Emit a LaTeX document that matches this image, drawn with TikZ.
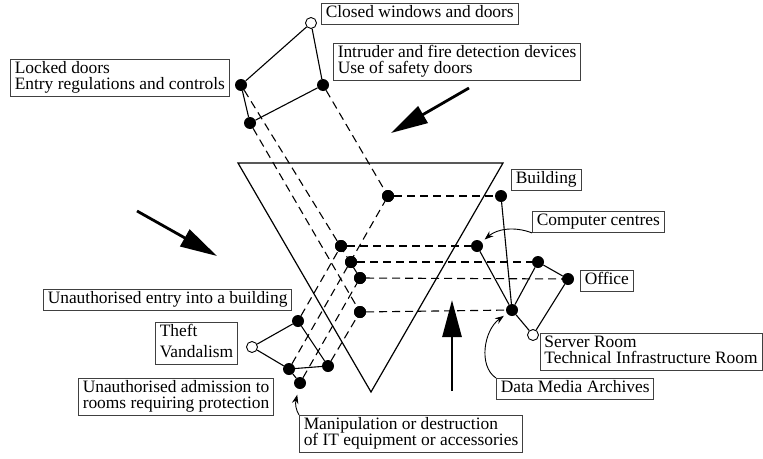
\documentclass[tikz,border=0pt]{standalone}
\usepackage{fontspec}
\setmainfont{Liberation Serif}
\usetikzlibrary{arrows.meta}
\newcommand\mystrut{\rule[-4.5pt]{0pt}{16.5pt}}
\setlength{\lineskiplimit}{-10pt}
\begin{document}
\begin{tikzpicture}[x=1pt,y=-1pt,
  lbl/.style={draw=black!75, line width=0.9pt, inner xsep=4.3pt, inner ysep=2.25pt, align=left, anchor=north west,
    font=\fontsize{17.4}{16}\selectfont},
  fdot/.style={circle, fill=black, inner sep=0pt, minimum size=12pt},
  odot/.style={circle, draw=black, fill=white, line width=0.9pt, inner sep=0pt, minimum size=11pt},
  sline/.style={line width=1.1pt},
  dline/.style={line width=1.1pt, dash pattern=on 8pt off 5pt},
  bigarrow/.style={line width=2.8pt, -{Triangle[length=37pt,width=19pt]}},
  thinarrow/.style={line width=0.9pt, -{Stealth[length=9pt,width=6.5pt]}},
]
\useasboundingbox (0,0) rectangle (763,458);

% triangle
\draw[line width=1.2pt, line join=miter] (238,163) -- (503,163) -- (371,392) -- cycle;

% dots
\node[odot] (A) at (311,23) {};
\node[fdot] (B) at (241,85) {};
\node[fdot] (C) at (323,85) {};
\node[fdot] (D) at (250,123) {};

\node[fdot] (E) at (388,196) {};
\node[fdot] (G) at (341,246) {};
\node[fdot] (I) at (351,262) {};
\node[fdot] (J) at (360,278) {};
\node[fdot] (K) at (360,312) {};

\node[fdot] (F) at (501,196) {};
\node[fdot] (H) at (477,246) {};
\node[fdot] (L) at (538,262) {};
\node[fdot] (M) at (568,279) {};
\node[fdot] (N) at (512,310) {};
\node[odot] (O) at (533,335) {};

\node[fdot] (P) at (298,321) {};
\node[odot] (Q) at (252,347) {};
\node[fdot] (R) at (289,369) {};
\node[fdot] (S) at (328,366) {};
\node[fdot] (T) at (300,383) {};

% dashed projection lines
\draw[dline] (C) -- (E);
\draw[dline] (B) -- (J);
\draw[dline] (D) -- (K);
\draw[dline] (R) -- (E);
\draw[dline] (P) -- (G);
\draw[dline] (T) -- (J);
\draw[dline] (S) -- (K);
\draw[dline] (E) -- (F);
\draw[dline] (G) -- (H);
\draw[dline] (I) -- (L);
\draw[dline] (J) -- (M);
\draw[dline] (K) -- (N);

% redraw central dots over dashes
\foreach \p in {(388,196),(341,246),(351,262),(360,278),(360,312)}
  \fill \p circle (6pt);

% solid lines
\draw[sline] (A) -- (B);
\draw[sline] (A) -- (C);
\draw[sline] (B) -- (D);
\draw[sline] (C) -- (D);

\draw[sline] (F) -- (N);
\draw[sline] (H) -- (N);
\draw[sline] (L) -- (N);
\draw[sline] (L) -- (M);
\draw[sline] (M) -- (O);
\draw[sline] (N) -- (O);

\draw[sline] (Q) -- (P);
\draw[sline] (Q) -- (R);
\draw[sline] (P) -- (S);
\draw[sline] (R) -- (S);
\draw[sline] (R) -- (T);

% labels
\node[lbl] (cw) at (321,3) {\mystrut Closed windows and doors};
\node[lbl] (intr) at (333,43) {\mystrut Intruder and fire detection devices\\\mystrut Use of safety doors};
\node[lbl] (lock) at (10,59) {\mystrut Locked doors\\\mystrut Entry regulations and controls};
\node[lbl] (bld) at (511,169) {\mystrut Building};
\node[lbl] (cc) at (532,211) {\mystrut Computer centres};
\node[lbl] (off) at (580,270) {\mystrut Office};
\node[lbl, anchor=north east] (srv) at (762.4,333) {\mystrut Server Room\\\mystrut Technical Infrastructure Room};
\node[lbl] (dma) at (496,378) {\mystrut Data Media Archives};
\node[lbl] (man) at (299,415) {\mystrut Manipulation or destruction\\\mystrut of IT equipment or accessories};
\node[lbl] (uen) at (43,289) {\mystrut Unauthorised entry into a building};
\node[lbl] (theft) at (155,322) {\mystrut Theft\\[4.7pt]\mystrut Vandalism};
\node[lbl] (uadm) at (78,378) {\mystrut Unauthorised admission to\\\mystrut rooms requiring protection};

% big arrows
\coordinate (a1t) at (469,88);
\coordinate (a1h) at (391,133);
\coordinate (a2t) at (137,211);
\coordinate (a2h) at (217,256);
\coordinate (a3t) at (452,391);
\coordinate (a3h) at (452,300);
\draw[bigarrow] (a1t) -- (a1h);
\draw[bigarrow] (a2t) -- (a2h);
\draw[bigarrow] (a3t) -- (a3h);

% thin curved arrows
\draw[thinarrow, shorten >=10pt] (cc.south west) .. controls (514,226) and (497,229) .. (H.center);
\draw[thinarrow, shorten >=10pt] (dma.north west) .. controls (478,366) and (484,330) .. (N.center);
\draw[thinarrow, shorten >=12pt] (man.north west) .. controls (296,410) and (295,404) .. (T.center);
\end{tikzpicture}
\end{document}
